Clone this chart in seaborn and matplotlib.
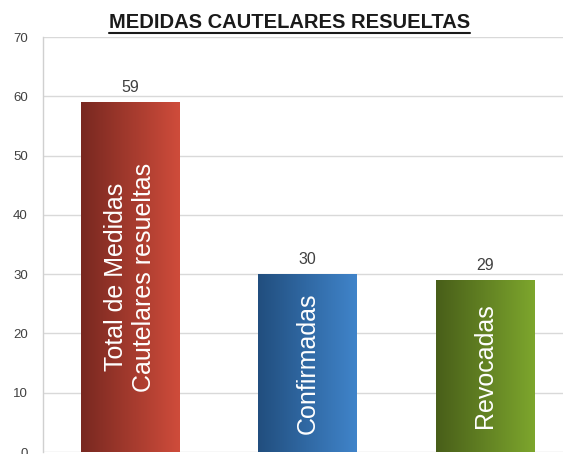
import numpy as np
import pandas as pd
import matplotlib
matplotlib.use("Agg")
import matplotlib.pyplot as plt
from matplotlib.colors import LinearSegmentedColormap
from matplotlib.lines import Line2D
import seaborn as sns

# datos
categorias = ["Total de Medidas\nCautelares resueltas", "Confirmadas", "Revocadas"]
valores = [59, 30, 29]
titulo = "MEDIDAS CAUTELARES RESUELTAS"
y_ticks = [0, 10, 20, 30, 40, 50, 60, 70]

# degradados (oscuro a la izquierda, claro a la derecha)
colores = [("#782820", "#cf4c3b"), ("#214e7e", "#4084ca"), ("#485e19", "#7da62d")]

sns.set_theme(style="whitegrid")
plt.rcParams['font.family'] = ['Liberation Sans', 'DejaVu Sans']

df = pd.DataFrame({"categoria": categorias, "valor": valores})

fig = plt.figure(figsize=(5.63, 4.54), dpi=100)
ax = fig.add_axes([0.0764, 0.0044, 0.93, 0.914])

sns.barplot(data=df, x="categoria", y="valor", hue="categoria",
            palette=[c[1] for c in colores], width=0.555, legend=False, ax=ax)

ax.set_ylim(0, 70)
ax.set_xlim(-0.49, 2.46)
ax.set_yticks(y_ticks)

# degradado horizontal dentro de cada barra
grad = np.linspace(0, 1, 256).reshape(1, -1)
for patch, (c0, c1) in zip(ax.patches, colores):
    x0, y0 = patch.get_x(), patch.get_y()
    w, h = patch.get_width(), patch.get_height()
    cmap = LinearSegmentedColormap.from_list("g", [c0, c1])
    im = ax.imshow(grad, cmap=cmap, aspect="auto", extent=[x0, x0 + w, y0, y0 + h],
                   zorder=patch.get_zorder() + 0.1)
    im.set_clip_path(patch)
    patch.set_edgecolor("none")

ax.set_xlim(-0.49, 2.46)
ax.set_ylim(0, 70)

# etiquetas dentro de las barras y valores encima
for i, (cat, val) in enumerate(zip(categorias, valores)):
    ax.text(i, val / 2, cat, rotation=90, ha="center", va="center", color="white",
            fontsize=18, linespacing=1.2, zorder=5)
    ax.annotate(str(val), (i, val), xytext=(0, 5), textcoords="offset points",
                ha="center", va="bottom", fontsize=11.5, color="#404040", zorder=5)

ax.set_xlabel("")
ax.set_ylabel("")
ax.set_xticks([])
ax.grid(axis="y", color="#d9d9d9", linewidth=1)
ax.grid(axis="x", visible=False)
for s in ["top", "right", "bottom"]:
    ax.spines[s].set_visible(False)
ax.spines["left"].set_color("#d0d0d0")
ax.spines["left"].set_linewidth(1)
ax.tick_params(axis="y", length=5, color="#d0d0d0", labelsize=9.5, labelcolor="#404040", pad=6)

t = fig.text(0.514, 0.938, titulo, ha="center", va="baseline", fontsize=14.5,
             fontweight="bold", color="#1a1a1a")

# subrayado del título
fig.canvas.draw()
bb = t.get_window_extent()
yl = bb.y0 - 1
fig.add_artist(Line2D([bb.x0, bb.x1], [yl, yl], transform=None, color="#1a1a1a", linewidth=1.5))

fig.savefig("out.png", dpi=100)
